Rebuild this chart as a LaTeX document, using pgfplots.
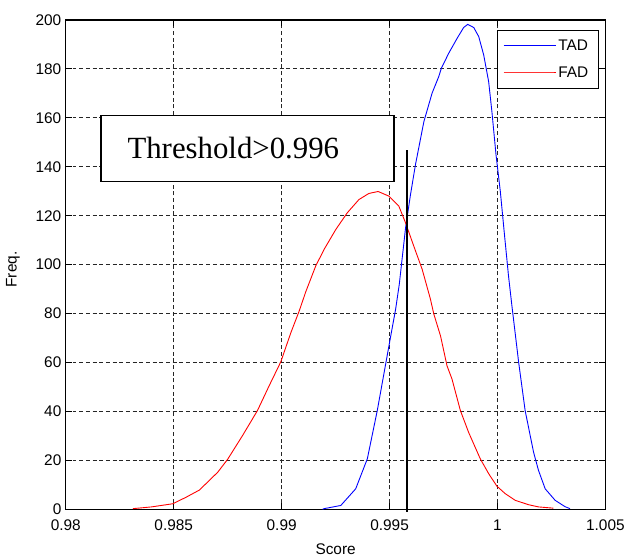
\documentclass[border=0pt]{standalone}
\usepackage{fontspec}
\setmainfont{Liberation Sans}
\newfontfamily\timesfont{Liberation Serif}
\usepackage{pgfplots}
\pgfplotsset{compat=1.18}
\begin{document}
\begin{tikzpicture}
\begin{axis}[
 scale only axis, width=541bp, height=490.7bp,
 xmin=0.98, xmax=1.005, ymin=0, ymax=200,
 xtick={0.98,0.985,0.99,0.995,1,1.005},
 xticklabels={0.98,0.985,0.99,0.995,1,1.005},
 ytick={0,20,...,200},
 /pgf/number format/assume math mode=true,
 tick align=inside, major tick length=6bp,
 tick style={black, line width=0.8bp},
 axis line style={line width=1.3bp},
 grid=major,
 major grid style={black!85, line width=0.8bp, dash pattern=on 4bp off 2.7bp},
 tick label style={font=\fontsize{15.5}{18}\selectfont},
 xticklabel style={yshift=-7bp},
 yticklabel style={xshift=-1bp},
 label style={font=\fontsize{15.5}{18}\selectfont},
 xlabel=Score, ylabel=Freq.,
 xlabel style={at={(axis description cs:0.5,0)}, anchor=center, yshift=-40bp},
 ylabel style={at={(axis description cs:-0.098,0.49)}, anchor=center},
 legend style={at={(0.988,0.98)}, anchor=north east, line width=1.3bp,
   font=\fontsize{15.5}{18}\selectfont, inner xsep=8bp, inner ysep=7.5bp, row sep=11bp},
 legend cell align=left,
 clip=false,
]
\addplot[color=blue, line width=0.9bp,
  legend image code/.code={\path (0bp,0bp) -- (50bp,0bp);}] coordinates {
(0.9919,0) (0.99197,0.3) (0.99274,1.6) (0.99343,8.4) (0.99397,20.7) (0.99443,40.4)
(0.99497,66.8) (0.99528,81.8) (0.99545,92) (0.99574,115) (0.99597,128.7) (0.9962,140.9)
(0.99659,158.5) (0.99697,170.1) (0.99728,176.9) (0.9974,180.3) (0.99774,186.4)
(0.99813,192.5) (0.99843,196.9) (0.99862,198.2) (0.9989,196.9) (0.99913,193.2)
(0.99936,185.7) (0.99959,174.8) (0.99974,162.6) (0.99993,145) (1.00013,130)
(1.00032,112.5) (1.00051,95.4) (1.00067,83) (1.00098,60.1) (1.00128,40.4)
(1.00167,23.4) (1.0019,15.9) (1.00221,8.4) (1.00267,3.7) (1.00313,1.1) (1.00336,0.3)
};
\addlegendentry{TAD}
\addplot[color=red, line width=0.9bp,
  legend image code/.code={\path (0bp,0bp) -- (50bp,0bp);}] coordinates {
(0.98311,0.3) (0.98396,1) (0.98496,2.3) (0.98558,5) (0.98619,7.9) (0.98704,15.2)
(0.9875,20.5) (0.98819,30.2) (0.98888,40.4) (0.98942,50.5) (0.98996,60.3)
(0.99043,72.3) (0.99081,81) (0.99112,89) (0.99158,99.5) (0.99197,106.3)
(0.99251,114.4) (0.99304,121.2) (0.99358,126.6) (0.99404,129.1) (0.99447,129.9)
(0.99497,128) (0.99543,123.9) (0.99574,117.1) (0.99612,107.6) (0.99651,98.1)
(0.99689,86) (0.99705,79.8) (0.99736,70.9) (0.99766,58.7) (0.99789,53.3)
(0.99828,40.4) (0.99866,31.5) (0.9992,20.7) (0.99959,14.6) (0.99997,9.5)
(1.00036,6.4) (1.00082,3.7) (1.00144,1.9) (1.0019,1) (1.00259,0.5)
};
\addlegendentry{FAD}
\draw[line width=1.6bp, fill=white] (axis cs:0.98162,134) rectangle (axis cs:0.9952,161);
\node[font=\timesfont\fontsize{31}{36}\selectfont] at (axis cs:0.98776,147.8) {Threshold>0.996};
\addplot[black, line width=1.6bp, forget plot] coordinates {(0.99582,-0.9) (0.99582,147)};
\end{axis}
% legend sample lines (drawn on top of the legend box)
\draw[blue, line width=1bp] (439bp,464.9bp) -- (489bp,464.9bp);
\draw[red!80!white, line width=1.2bp] (439bp,437.9bp) -- (489bp,437.9bp);
\path (-66bp,-47.3bp) rectangle (562bp,510.7bp);
\end{tikzpicture}
\end{document}
